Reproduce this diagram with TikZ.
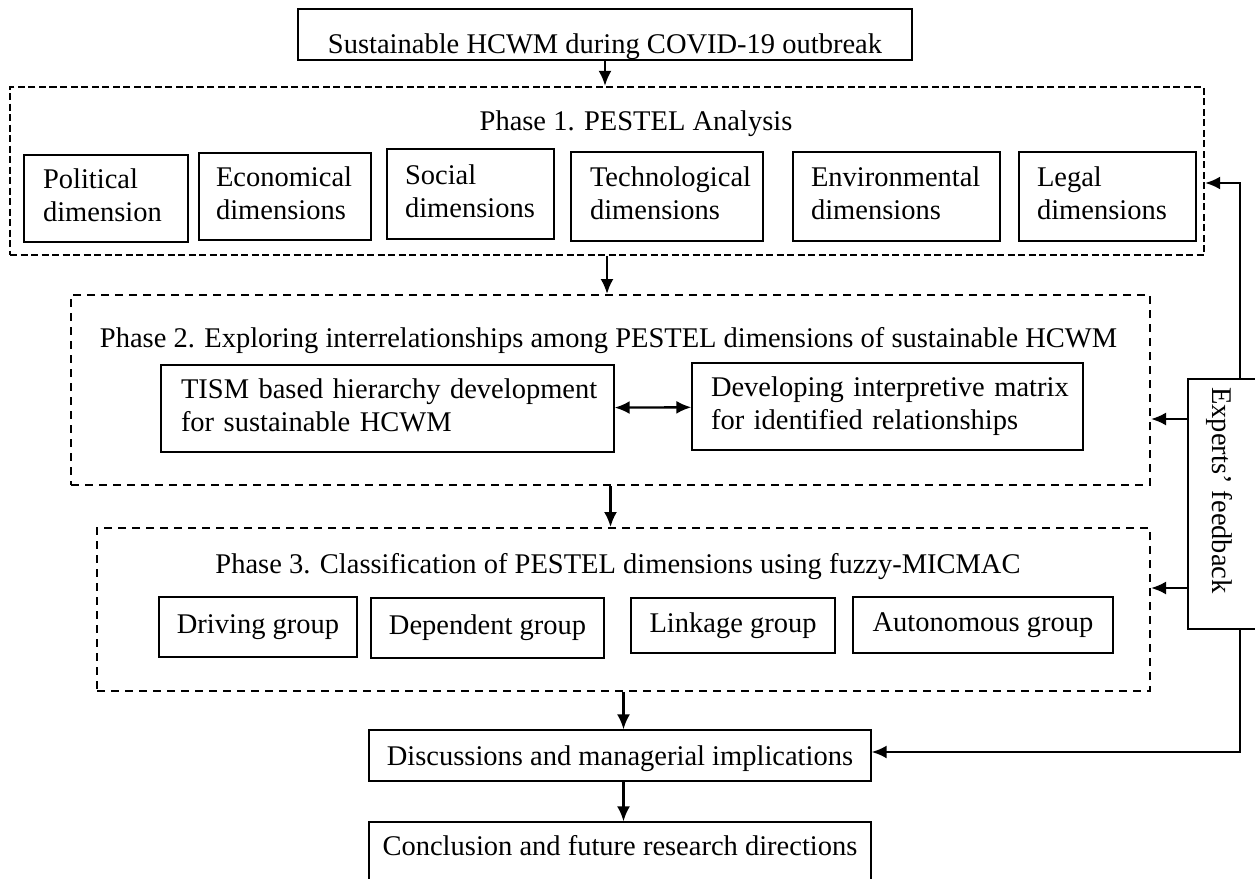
\documentclass[tikz,border=0pt]{standalone}
\usepackage{fontspec}
\setmainfont{Liberation Serif}
\usetikzlibrary{arrows.meta}
\hyphenpenalty=10000
\exhyphenpenalty=10000
\begin{document}
\begin{tikzpicture}[x=1pt,y=-1pt,
  font=\fontsize{28.5}{33}\selectfont,
  box/.style={draw=black, line width=1.3pt, inner ysep=0pt},
  twoline/.style={align=left},
  phaseA/.style={draw=black, line width=2.3pt, dash pattern=on 7pt off 3.5pt, inner sep=0pt},
  phaseB/.style={draw=black, line width=2pt, dash pattern=on 8pt off 6pt, inner sep=0pt},
  title/.style={anchor=base, inner sep=0pt},
  arr/.style={-{Latex[length=15pt,width=13pt]}, line width=2.3pt},
  biarr/.style={{Latex[length=15pt,width=13pt]}-{Latex[length=15pt,width=13pt]}, line width=2.3pt},
]
\useasboundingbox (0,0) rectangle (1255,878);
\clip (0,0) rectangle (1255,878);

% top box
\node[box, minimum width=614pt, minimum height=51pt, text height=43pt, text depth=6pt] (top) at (605,34.5) {Sustainable HCWM during COVID-19 outbreak};

% Phase 1
\node[phaseA, minimum width=1194pt, minimum height=168pt] (p1) at (607,171) {};
\node[title] (t1) at (636,130) {Phase 1. PESTEL Analysis};
\node[box, twoline, minimum width=164pt, minimum height=87pt, text width=126pt, inner xsep=19pt] (pol) at (106,198.5) {\strut\mbox{Political}\\\mbox{dimension}\strut};
\node[box, twoline, minimum width=172pt, minimum height=87pt, text width=138pt, inner xsep=17pt] (eco) at (285,196.5) {\strut\mbox{Economical}\\\mbox{dimensions}\strut};
\node[box, twoline, minimum width=167pt, minimum height=90pt, text width=131pt, inner xsep=18pt] (soc) at (470.5,194) {\strut\mbox{Social}\\\mbox{dimensions}\strut};
\node[box, twoline, minimum width=192pt, minimum height=89pt, text width=154pt, inner xsep=19pt] (tec) at (667,196.5) {\strut\mbox{Technological}\\\mbox{dimensions}\strut};
\node[box, twoline, minimum width=207pt, minimum height=89pt, text width=171pt, inner xsep=18pt] (env) at (896.5,196.5) {\strut\mbox{Environmental}\\\mbox{dimensions}\strut};
\node[box, twoline, minimum width=177pt, minimum height=89pt, text width=141pt, inner xsep=18pt] (leg) at (1107.5,196.5) {\strut\mbox{Legal}\\\mbox{dimensions}\strut};

% Phase 2
\node[phaseB, minimum width=1079pt, minimum height=190pt] (p2) at (610.5,390) {};
\node[title] (t2) at (608.5,347) {Phase 2. Exploring interrelationships among PESTEL dimensions of sustainable HCWM};
\node[box, twoline, minimum width=453pt, minimum height=87pt, text width=413pt, inner xsep=20pt] (tism) at (387.5,408.5) {\strut\mbox{TISM based hierarchy development}\\\mbox{for sustainable HCWM}\strut};
\node[box, twoline, minimum width=391pt, minimum height=87pt, text width=353pt, inner xsep=19pt] (dev) at (887.5,406.5) {\strut\mbox{Developing interpretive matrix}\\\mbox{for identified relationships}\strut};

% Phase 3
\node[phaseB, minimum width=1053pt, minimum height=163pt] (p3) at (623.5,609.5) {};
\node[title] (t3) at (618,573) {Phase 3. Classification of PESTEL dimensions using fuzzy-MICMAC};
\node[box, minimum width=198pt, minimum height=60pt] (drv) at (258,627) {Driving group};
\node[box, minimum width=233pt, minimum height=60pt] (dep) at (487.5,628) {Dependent group};
\node[box, minimum width=204pt, minimum height=55pt] (lnk) at (733,625.5) {Linkage group};
\node[box, minimum width=260pt, minimum height=56pt] (aut) at (983,625) {Autonomous group};

% bottom boxes
\node[box, minimum width=502pt, minimum height=51pt, text height=25pt, text depth=6pt] (disc) at (620,755.5) {Discussions and managerial implications};
\node[box, minimum width=502pt, minimum height=68pt, text height=19pt, text depth=21pt] (concl) at (620,856) {Conclusion and future research directions};

% experts feedback
\node[box, minimum width=74pt, minimum height=250pt] (fb) at (1225,504) {};
\node[rotate=-90, inner sep=0pt] (fbt) at (1219,490.5) {Experts’ feedback};

% main flow arrows
\draw[arr] (top.south) -- (top.south |- p1.north);
\draw[arr] (p1.south) -- (p1.south |- p2.north);
\draw[arr] (p2.south) -- (p2.south |- p3.north);
\draw[arr] (p3.south) -- (p3.south |- disc.north);
\draw[arr] (disc.south -| p3.south) -- (concl.north -| p3.south);
\draw[biarr] (tism) -- (dev);

% feedback arrows
\coordinate (ft) at (1240,183);
\coordinate (fd) at (1240,752);
\coordinate (f2) at (1188,419);
\coordinate (f3) at (1188,588);
\draw[arr] (fb.north -| ft) -- (ft) -- (ft -| p1.east);
\draw[arr] (fb.south -| fd) -- (fd) -- (fd -| disc.east);
\draw[arr] (f2) -- (f2 -| p2.east);
\draw[arr] (f3) -- (f3 -| p3.east);
\end{tikzpicture}
\end{document}
